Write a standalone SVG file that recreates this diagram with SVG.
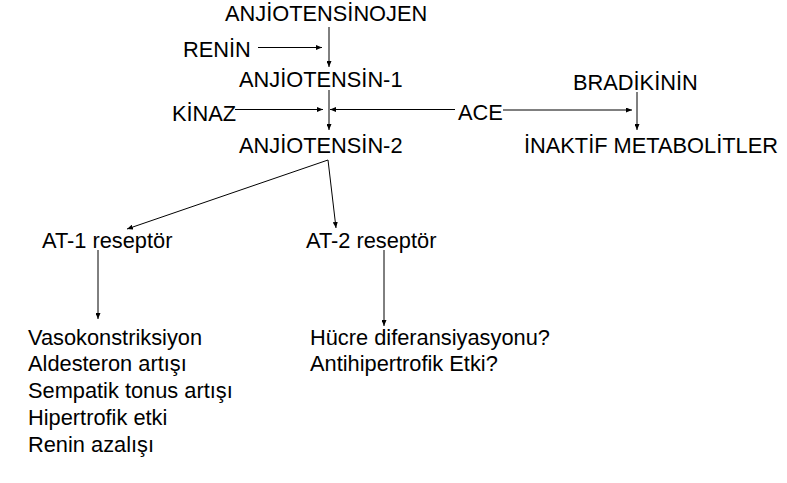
<svg xmlns="http://www.w3.org/2000/svg" width="787" height="483" viewBox="0 0 787 483">
<style>
text{font-family:"Liberation Sans",Arial,sans-serif;font-size:21.8px;fill:#000}
.c line{stroke:#000;stroke-width:1;fill:none}
</style>
<defs>
<marker id="ah" viewBox="0 0 6 5" refX="6" refY="2.5" markerWidth="6" markerHeight="5" markerUnits="userSpaceOnUse" orient="auto">
<path d="M0,0 L6,2.5 L0,5 z" fill="#000"/>
</marker>
</defs>
<rect width="787" height="483" fill="#fff"/>
<g id="connectors" class="c">
<line x1="329" y1="27" x2="329" y2="67" marker-end="url(#ah)"/>
<line x1="258" y1="47.5" x2="322" y2="47.5" marker-end="url(#ah)"/>
<line x1="329" y1="90" x2="329" y2="130" marker-end="url(#ah)"/>
<line x1="235" y1="109.5" x2="323" y2="109.5" marker-end="url(#ah)"/>
<line x1="455" y1="109.5" x2="330" y2="109.5" marker-end="url(#ah)"/>
<line x1="503" y1="110" x2="632" y2="110" marker-end="url(#ah)"/>
<line x1="637" y1="92" x2="637" y2="130" marker-end="url(#ah)"/>
<line x1="328" y1="160" x2="127" y2="229" marker-end="url(#ah)"/>
<line x1="328" y1="160" x2="336" y2="228" marker-end="url(#ah)"/>
<line x1="98" y1="250" x2="98" y2="319" marker-end="url(#ah)"/>
<line x1="384" y1="250" x2="384" y2="326" marker-end="url(#ah)"/>
</g>
<g id="angiotensinojen"><text x="225" y="21">ANJİOTENSİNOJEN</text></g>
<g id="renin"><text x="183" y="57">RENİN</text></g>
<g id="angiotensin1"><text x="239" y="87">ANJİOTENSİN-1</text></g>
<g id="kinaz"><text x="172" y="121">KİNAZ</text></g>
<g id="ace"><text x="458" y="120">ACE</text></g>
<g id="bradikinin"><text x="573" y="90">BRADİKİNİN</text></g>
<g id="angiotensin2"><text x="239" y="153">ANJİOTENSİN-2</text></g>
<g id="inaktif"><text x="524" y="153">İNAKTİF METABOLİTLER</text></g>
<g id="at1"><text x="42" y="248">AT-1 reseptör</text></g>
<g id="at2"><text x="306" y="248">AT-2 reseptör</text></g>
<g id="at1-effects">
<text x="28" y="345">Vasokonstriksiyon</text>
<text x="28" y="371">Aldesteron artışı</text>
<text x="28" y="398">Sempatik tonus artışı</text>
<text x="28" y="425">Hipertrofik etki</text>
<text x="28" y="452">Renin azalışı</text>
</g>
<g id="at2-effects">
<text x="310" y="345">Hücre diferansiyasyonu?</text>
<text x="310" y="371">Antihipertrofik Etki?</text>
</g>
</svg>
